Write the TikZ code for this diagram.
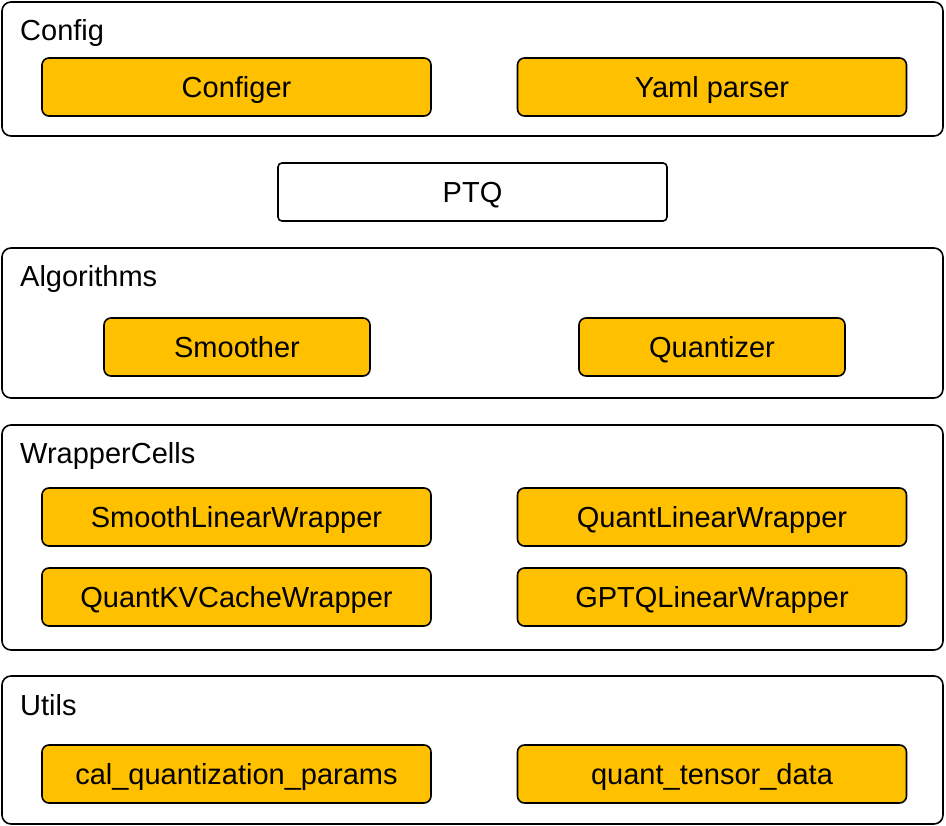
\documentclass[tikz,border=0pt]{standalone}
\usepackage{fontspec}
\setmainfont{Liberation Sans}
\usetikzlibrary{positioning}
\definecolor{itemfill}{HTML}{FFC000}
\tikzset{
  panel/.style = {
    rectangle,
    draw,
    line width=1.6pt,
    rounded corners=9pt,
    inner sep=0pt,
    minimum width=941pt
  },
  paneltitle/.style = {
    anchor=base west,
    inner sep=0pt
  },
  item/.style = {
    rectangle,
    draw,
    fill=itemfill,
    line width=1.6pt,
    rounded corners=7pt,
    inner sep=0pt,
    text height=21pt,
    text depth=0pt,
    minimum width=389pt,
    minimum height=58pt
  },
  smallitem/.style = {
    item,
    minimum width=266pt
  },
  mainbox/.style = {
    item,
    fill=white,
    rounded corners=4pt
  }
}

\begin{document}
\begin{tikzpicture}[x=1pt, y=-1pt, font=\fontsize{29}{34}\selectfont]
    \useasboundingbox (0,0) rectangle (946,826);
    % layers
    \node[panel, minimum height=134pt] (config) at (472.5,69) {};
    \node[panel, minimum height=150pt] (algos) at (472.5,323) {};
    \node[panel, minimum height=225pt] (wrappers) at (472.5,537.5) {};
    \node[panel, minimum height=148pt] (utils) at (472.5,750) {};
    \node[paneltitle] (configtitle) at (20,41) {Config};
    \node[paneltitle] (algostitle) at (20,287) {Algorithms};
    \node[paneltitle] (wrapperstitle) at (20,464) {WrapperCells};
    \node[paneltitle] (utilstitle) at (20,715) {Utils};
    % config
    \node[item] (configer) at (236.5,87) {Configer};
    \node[item] (yaml) at (712,87) {Yaml parser};
    % ptq
    \node[mainbox] (ptq) at (472.5,192) {PTQ};
    % algorithms
    \node[smallitem] (smoother) at (237,347) {Smoother};
    \node[smallitem] (quantizer) at (712,347) {Quantizer};
    % wrapper cells
    \node[item] (smoothlinear) at (236.5,517) {SmoothLinearWrapper};
    \node[item] (quantlinear) at (712,517) {QuantLinearWrapper};
    \node[item] (quantkv) at (236.5,597) {QuantKVCacheWrapper};
    \node[item] (gptqlinear) at (712,597) {GPTQLinearWrapper};
    % utils
    \node[item] (calparams) at (236.5,774) {cal\_quantization\_params};
    \node[item] (tensordata) at (712,774) {quant\_tensor\_data};
\end{tikzpicture}
\end{document}
